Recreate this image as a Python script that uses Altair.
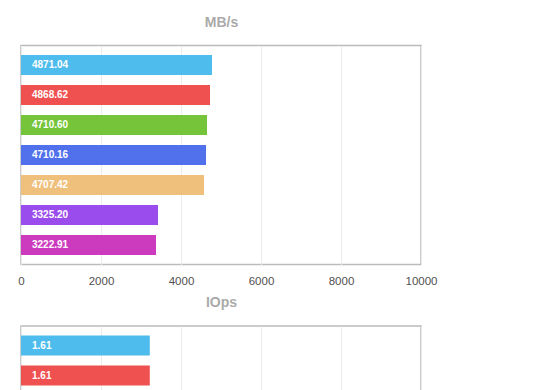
import altair as alt
import pandas as pd

# ---- data ----
names = ["Run 1", "Run 2", "Run 3", "Run 4", "Run 5", "Run 6", "Run 7"]
colors = ["#4EBCEC", "#EF5050", "#75C43A", "#5070EC", "#EEC07C", "#9B4CEC", "#CC3BBE"]

# MB/s panel (only its axis is visible in the picture)
mbps_ticks = [0, 100, 200, 300, 400, 500]

# IOps panel
iops_labels = ["4871.04", "4868.62", "4710.60", "4710.16", "4707.42", "3325.20", "3222.91"]
iops_bars = [4775, 4725, 4650, 4625, 4575, 3425, 3375]
iops_ticks = [0, 2000, 4000, 6000, 8000, 10000]

# latency panel (only the first two bars are visible)
lat_names = ["Run 1", "Run 2"]
lat_values = [1.61, 1.61]
lat_labels = ["1.61", "1.61"]
lat_ticks = [0, 1, 2, 3, 4, 5]

W = 400
H = 219
FONT = "Liberation Sans"


def panel(df, title, ticks):
    y = alt.Y("name:N", sort=names, axis=None,
              scale=alt.Scale(domain=names, paddingInner=1 / 3, paddingOuter=0.317))
    x = alt.X("v:Q",
              scale=alt.Scale(domain=[ticks[0], ticks[-1]], nice=False),
              axis=alt.Axis(title=title, values=ticks, format="d"))
    bars = alt.Chart(df).mark_bar().encode(
        x=x, y=y,
        color=alt.Color("name:N", scale=alt.Scale(domain=names, range=colors), legend=None),
    )
    text = alt.Chart(df).mark_text(
        align="left", baseline="middle", dx=11, color="white",
        font=FONT, fontSize=10, fontWeight="bold",
    ).encode(x=alt.datum(0), y=y, text="label:N")
    return (bars + text).properties(width=W, height=H)


top_df = pd.DataFrame({"name": pd.Series([], dtype=str),
                       "v": pd.Series([], dtype=float),
                       "label": pd.Series([], dtype=str)})
iops_df = pd.DataFrame({"name": names, "v": iops_bars, "label": iops_labels})
lat_df = pd.DataFrame({"name": lat_names, "v": lat_values, "label": lat_labels})

chart = alt.vconcat(
    panel(top_df, "MB/s", mbps_ticks),
    panel(iops_df, "IOps", iops_ticks),
    panel(lat_df, "ms", lat_ticks),
    spacing=14.5,
).properties(
    padding={"top": -244, "left": 9, "right": 5, "bottom": 5},
).configure_view(
    stroke="#bbbbbb", strokeWidth=1.5,
).configure_axis(
    grid=True, gridColor="#ebebeb", gridWidth=1,
    domain=False, ticks=False, tickSize=0,
    labelFont=FONT, labelFontSize=11.5, labelColor="#505050", labelPadding=11,
    labelFlush=False, labelOverlap=False,
    titleFont=FONT, titleFontSize=14, titleFontWeight="bold", titleColor="#aaaaaa",
    titlePadding=8.5,
)

chart.save("out.html", embed_options={"renderer": "svg", "actions": False})
